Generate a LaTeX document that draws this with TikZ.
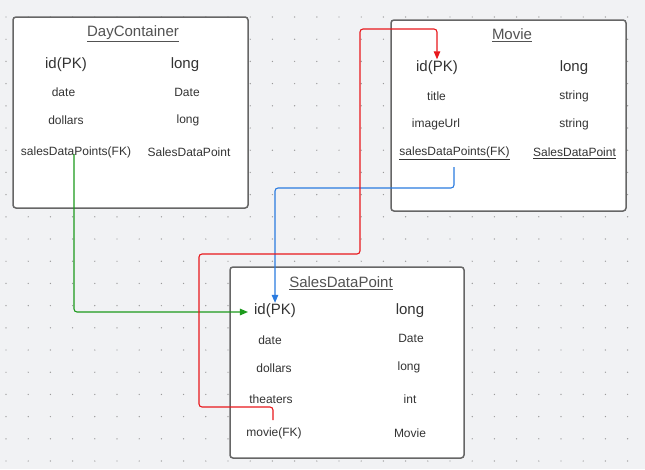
\documentclass[tikz,border=0pt]{standalone}
\usepackage{fontspec}
\setmainfont{Liberation Sans}
\usetikzlibrary{arrows.meta}
\definecolor{bg}{HTML}{F1F2F4}
\definecolor{txt}{HTML}{333333}
\definecolor{boxline}{HTML}{666666}
\definecolor{gridc}{HTML}{9A9A9A}
\definecolor{gline}{HTML}{1C9A1C}
\definecolor{bline}{HTML}{2A7BE0}
\definecolor{rline}{HTML}{E8181C}
\tikzset{
  entity/.style={draw=boxline, line width=1.5pt, fill=white, rounded corners=3pt},
  big/.style={text=txt, font=\fontsize{15}{17}\selectfont, inner sep=3pt},
  small/.style={text=txt, font=\fontsize{12}{14}\selectfont, inner sep=3pt},
  title/.style={text=txt!85!white, font=\fontsize{15}{17}\selectfont, inner sep=3pt},
  conn/.style={line width=1.1pt, rounded corners=3pt, -{Triangle[length=8pt,width=6.5pt]}}
}
\begin{document}
\begin{tikzpicture}[x=1pt,y=-1pt]
\useasboundingbox (0,0) rectangle (645,469);
\fill[bg] (0,0) rectangle (645,469);
\foreach \i in {0,...,28}{
  \foreach \j in {0,...,20}{
    \fill[gridc] (6+22.2*\i,17+22.2*\j) circle (0.7);
  }
}
% boxes
\draw[entity] (13,17) rectangle (248,208);
\draw[entity] (391,20) rectangle (626,211);
\draw[entity] (230,267) rectangle (464,458);
% DayContainer
\node[title] (dct) at (133,33.5) {\underline{DayContainer}};
\node[big] (did) at (66,64.5) {id(PK)};
\node[big] (dlong) at (185,64.5) {long};
\node[small] (ddate) at (63.5,92) {date};
\node[small] (dDate) at (187,92) {Date};
\node[small] (ddol) at (66,120) {dollars};
\node[small] (dlong2) at (188,120) {long};
\node[small] (dfk) at (76,152) {salesDataPoints(FK)};
\node[small] (dsdp) at (189,152) {SalesDataPoint};
% Movie
\node[title] (mt) at (512,35.5) {\underline{Movie}};
\node[big] (mid) at (437,67.5) {id(PK)};
\node[big] (mlong) at (574,67.5) {long};
\node[small] (mtitle) at (436.5,96) {title};
\node[small] (mstr) at (574,96) {string};
\node[small] (murl) at (436,124) {imageUrl};
\node[small] (mstr2) at (574,124) {string};
\node[small] (mfk) at (454.5,153) {\underline{salesDataPoints(FK)}};
\node[small] (msdp) at (574.5,153) {\underline{SalesDataPoint}};
% SalesDataPoint
\node[title] (st) at (341,283.5) {\underline{SalesDataPoint}};
\node[big] (sid) at (275,311) {id(PK)};
\node[big] (slong) at (410,310.5) {long};
\node[small] (sdate) at (270,340) {date};
\node[small] (sDate) at (411,338) {Date};
\node[small] (sdol) at (274,368) {dollars};
\node[small] (slong2) at (409,367) {long};
\node[small] (sth) at (271,399) {theaters};
\node[small] (sint) at (410,399) {int};
\node[small] (smov) at (274,433) {movie(FK)};
\node[small] (sMov) at (410,433) {Movie};
% connectors
\coordinate (g0) at (74,154);
\coordinate (b0) at (454,167);
\coordinate (r0) at (273,420);
\draw[conn, gline] (g0) |- ([xshift=-3pt,yshift=-1pt]sid.west);
\draw[conn, bline] (b0) -- (454,188) -| ([yshift=-2pt]sid.north);
\draw[conn, rline] (r0) -- (273,407) -- (199,407) -- (199,254) -- (360,254) -- (360,29) -- (437,29) -- ([yshift=-2pt]mid.north);
\end{tikzpicture}
\end{document}
